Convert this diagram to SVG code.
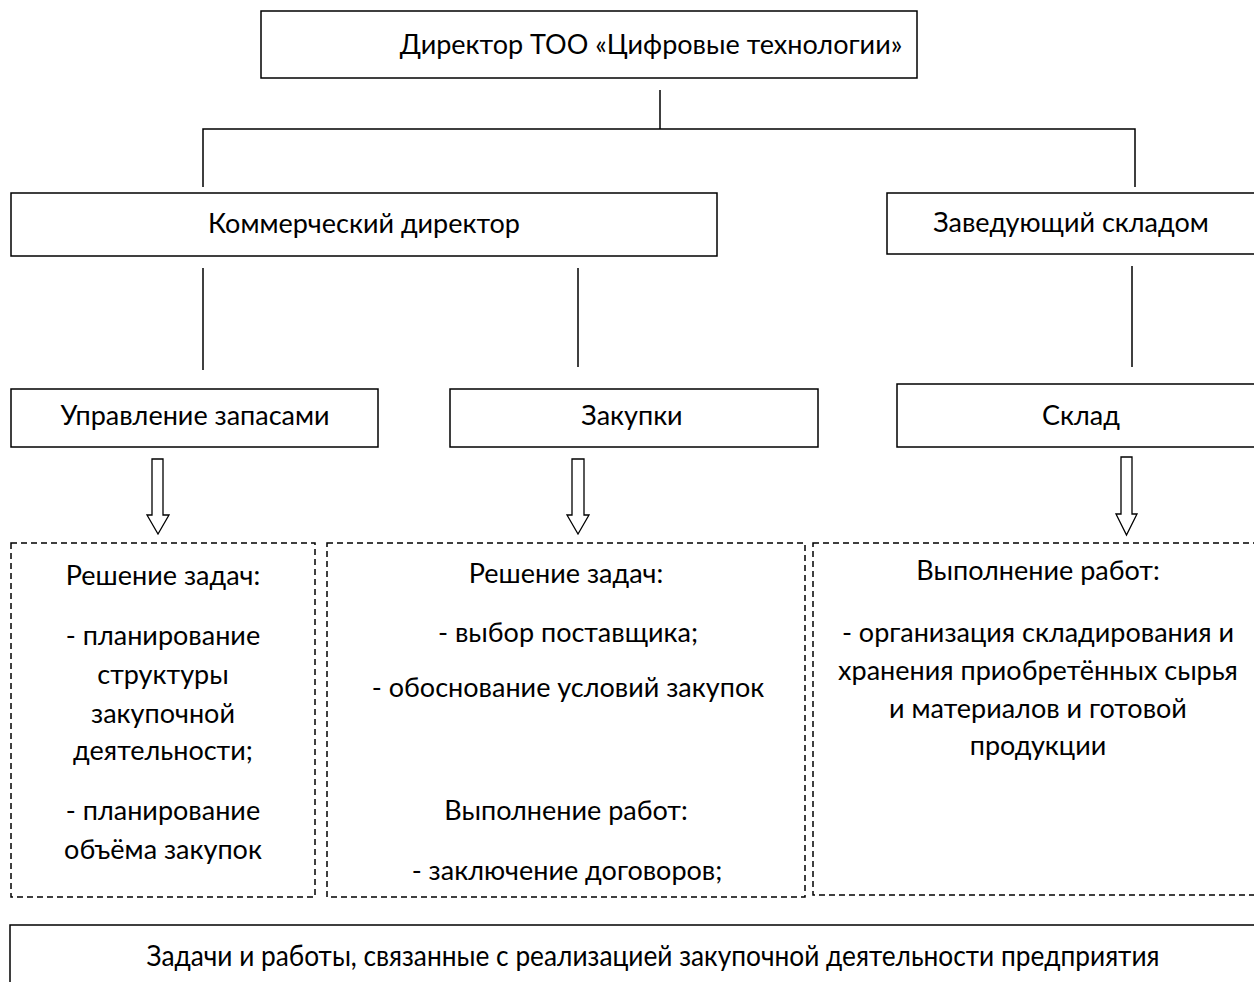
<svg xmlns="http://www.w3.org/2000/svg" width="1254" height="982" viewBox="0 0 1254 982">
<style>
.box{fill:#fff;stroke:#000;stroke-width:1.5}
.dbox{fill:none;stroke:#000;stroke-width:1.5;stroke-dasharray:6 4}
.ln{stroke:#000;stroke-width:1.5;fill:none}
.arr{fill:#fff;stroke:#000;stroke-width:1.3}
text{font-family:Lato,"Noto Sans",sans-serif;font-size:27px;fill:#000;text-anchor:middle}
</style>
<rect width="1254" height="982" fill="#fff"/>
<g id="connectors">
<line class="ln" x1="660" y1="90" x2="660" y2="129"/>
<polyline class="ln" points="203,187 203,129 1135,129 1135,187"/>
<line class="ln" x1="203" y1="268" x2="203" y2="370"/>
<line class="ln" x1="578" y1="268" x2="578" y2="367"/>
<line class="ln" x1="1132" y1="266" x2="1132" y2="367"/>
<polygon class="arr" points="152,459 163,459 163,515 169,515 158,534 147,515 152,515"/>
<polygon class="arr" points="572,459 584,459 584,515 589,515 578,534 567,515 572,515"/>
<polygon class="arr" points="1121,457 1132,457 1132,514 1137,514 1126.5,535 1116,514 1121,514"/>
</g>
<g id="director">
<rect class="box" x="261" y="11" width="656" height="67"/>
<text x="651" y="54">Директор ТОО «Цифровые технологии»</text>
</g>
<g id="commercial">
<rect class="box" x="11" y="193" width="706" height="63"/>
<text x="364" y="233">Коммерческий директор</text>
</g>
<g id="warehouse-head">
<rect class="box" x="887" y="193" width="380" height="61"/>
<text x="1071" y="232">Заведующий складом</text>
</g>
<g id="inventory">
<rect class="box" x="11" y="389" width="367" height="58"/>
<text x="195" y="425">Управление запасами</text>
</g>
<g id="purchasing">
<rect class="box" x="450" y="389" width="368" height="58"/>
<text x="632" y="425">Закупки</text>
</g>
<g id="warehouse">
<rect class="box" x="897" y="384" width="370" height="63"/>
<text x="1081" y="425">Склад</text>
</g>
<g id="tasks-inventory">
<rect class="dbox" x="11" y="543" width="304" height="354"/>
<text x="163" y="585">Решение задач:</text>
<text x="163" y="645">- планирование</text>
<text x="163" y="684">структуры</text>
<text x="163" y="723">закупочной</text>
<text x="163" y="760">деятельности;</text>
<text x="163" y="820">- планирование</text>
<text x="163" y="859">объёма закупок</text>
</g>
<g id="tasks-purchasing">
<rect class="dbox" x="327" y="543" width="478" height="354"/>
<text x="566" y="583">Решение задач:</text>
<text x="568" y="642">- выбор поставщика;</text>
<text x="568" y="697">- обоснование условий закупок</text>
<text x="566" y="820">Выполнение работ:</text>
<text x="567" y="880">- заключение договоров;</text>
</g>
<g id="tasks-warehouse">
<rect class="dbox" x="813" y="543" width="460" height="352"/>
<text x="1038" y="580">Выполнение работ:</text>
<text x="1038" y="642">- организация складирования и</text>
<text x="1038" y="680">хранения приобретённых сырья</text>
<text x="1038" y="718">и материалов и готовой</text>
<text x="1038" y="755">продукции</text>
</g>
<g id="summary">
<rect class="box" x="10" y="925" width="1260" height="80"/>
<text x="653" y="966" style="font-size:28px" textLength="1013" lengthAdjust="spacingAndGlyphs">Задачи и работы, связанные с реализацией закупочной деятельности предприятия</text>
</g>
</svg>
